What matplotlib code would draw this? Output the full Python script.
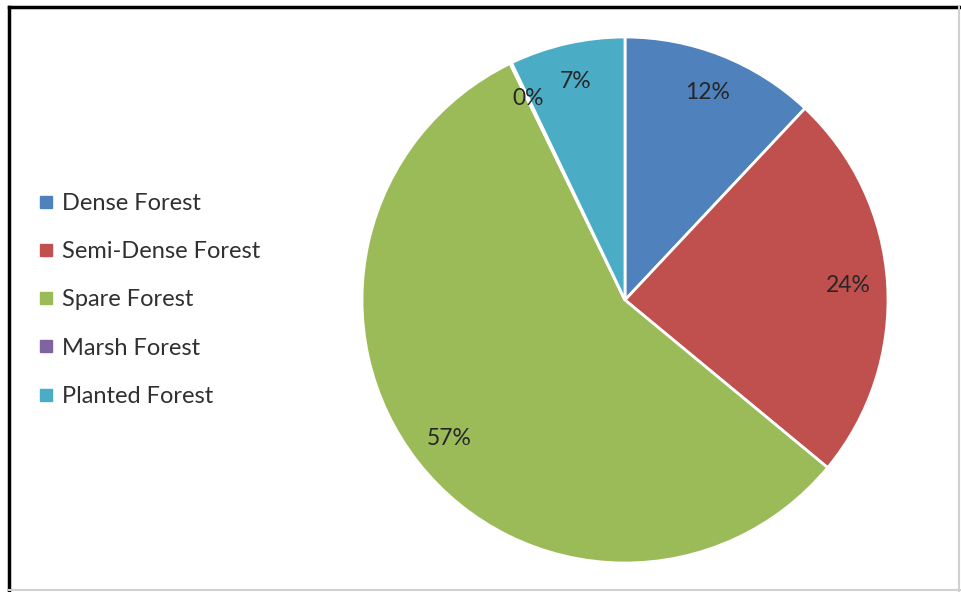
import matplotlib.pyplot as plt
from matplotlib.lines import Line2D

categories = ["Dense Forest", "Semi-Dense Forest", "Spare Forest", "Marsh Forest", "Planted Forest"]
shares = [12.0, 24.0, 56.8, 0.1, 7.1]
colors = ["#4F81BD", "#C0504D", "#9BBB59", "#8064A2", "#4BACC6"]

W, H = 962, 592
fig = plt.figure(figsize=(W / 100, H / 100), dpi=100)
plt.rcParams['font.family'] = ['Lato', 'DejaVu Sans']

# pie centre (625, 300) px, radius 263 px
cx, cy, r = 625, 300, 263
ax = fig.add_axes([(cx - r) / W, (H - cy - r) / H, 2 * r / W, 2 * r / H])
wedges, texts, autotexts = ax.pie(
    shares, colors=colors, startangle=90, counterclock=False,
    autopct='%.0f%%', pctdistance=0.85,
    wedgeprops=dict(edgecolor='white', linewidth=2),
    textprops=dict(color='#262626', fontsize=16.5))
ax.set_xlim(-1, 1)
ax.set_ylim(-1, 1)
ax.set_aspect('auto')
ax.axis('off')

handles = [Line2D([], [], marker='s', linestyle='none', markersize=8,
                  markerfacecolor=c, markeredgecolor=c) for c in colors]
fig.legend(handles, categories, loc='center left',
           bbox_to_anchor=(37 / W, 1 - 300 / H), frameon=False,
           fontsize=17, labelspacing=1.15, handlelength=0.8,
           handletextpad=0.28, borderpad=0, borderaxespad=0,
           labelcolor='#303030')

# frame of the screenshot: black on top and left, grey on right and bottom
fig.add_artist(Line2D([9 / W, 9 / W], [0, 1 - 7 / H], color='black', lw=2.5))
fig.add_artist(Line2D([9 / W, 1], [1 - 7 / H, 1 - 7 / H], color='black', lw=2.5))
fig.add_artist(Line2D([959 / W, 959 / W], [0, 1 - 7 / H], color='#d0d0d0', lw=1.5))
fig.add_artist(Line2D([9 / W, 1], [2 / H, 2 / H], color='#d0d0d0', lw=1.5))

fig.savefig('out.png', dpi=100)
